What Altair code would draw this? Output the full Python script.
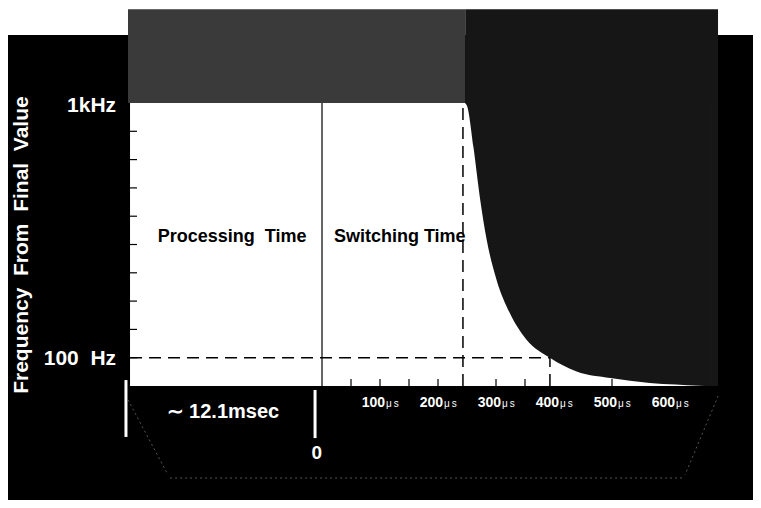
import altair as alt
import pandas as pd

# ---- data ----
# time axis in microseconds (0 = start of switching); negative part = processing time
curve_t = [246, 250, 261, 272, 284, 301, 324, 353, 393, 439, 497, 565, 610, 650, 669]
curve_f = [1000, 990, 845, 669, 516, 375, 257, 163, 100, 51, 28, 11, 5, 1, 0]

y_tick_values = [100, 200, 300, 400, 500, 600, 700, 800, 900]
x_tick_values = [50, 100, 150, 200, 300, 350, 500]
x_label_values = [100, 200, 300, 400, 500, 600]
x_label_numbers = ["100", "200", "300", "400", "500", "600"]
x_label_unit = "\u03bc\u2009s"

switch_start = 243      # µs, start of the fall (dashed vertical)
settle_time = 393       # µs, reaching 100 Hz
settle_freq = 100       # Hz
full_freq = 1000        # Hz
plot_start = -331       # left edge of white panel (processing time region)
plot_end = 669          # right edge of white panel

NB = "\u00a0"

# ---- scales ----
X_MIN, X_MAX = -541.4, 743.1
Y_MIN, Y_MAX = -402.8, 1335.7
xs = alt.Scale(domain=[X_MIN, X_MAX], nice=False, zero=False)
ys = alt.Scale(domain=[Y_MIN, Y_MAX], nice=False, zero=False)
FONT = "Liberation Sans"


def X(f="x"):
    return alt.X(f"{f}:Q", scale=xs, axis=None)


def Y(f="y"):
    return alt.Y(f"{f}:Q", scale=ys, axis=None)


def rect(x, x2, y, y2, color):
    df = pd.DataFrame({"x": [x], "x2": [x2], "y": [y], "y2": [y2]})
    return alt.Chart(df).mark_rect(color=color).encode(x=X(), x2="x2", y=Y(), y2="y2")


def rule(x, x2, y, y2, color="black", width=1.0, dash=None, opacity=1.0):
    df = pd.DataFrame({"x": x, "x2": x2, "y": y, "y2": y2})
    kw = dict(color=color, strokeWidth=width, opacity=opacity)
    if dash:
        kw["strokeDash"] = dash
    return alt.Chart(df).mark_rule(**kw).encode(x=X(), x2="x2", y=Y(), y2="y2")


def text(x, y, s, size, color="white", weight="bold", align="center", baseline="middle",
         dx=0, dy=0, angle=0):
    df = pd.DataFrame({"x": x, "y": y, "s": s})
    return alt.Chart(df).mark_text(
        font=FONT, fontSize=size, fontWeight=weight, color=color, align=align,
        baseline=baseline, dx=dx, dy=dy, angle=angle
    ).encode(x=X(), y=Y(), text="s:N")


layers = []
# dark surroundings
layers.append(rect(X_MIN, X_MAX, 1240, Y_MIN, "#000000"))
layers.append(rect(-334.5, switch_start + 4, Y_MAX - 4, full_freq, "#3a3a3a"))
layers.append(rect(switch_start + 4, 682.8, Y_MAX - 4, 0, "#161616"))
# white panel
layers.append(rect(plot_start, plot_end, 0, full_freq, "#ffffff"))
# dark region above the settling curve
curve_df = pd.DataFrame({"t": curve_t, "f": curve_f, "top": [full_freq] * len(curve_t)})
layers.append(
    alt.Chart(curve_df).mark_area(color="#161616", interpolate="monotone").encode(
        x=X("t"), y=Y("f"), y2="top")
)
# dashed guide lines
dash = [12, 7]
layers.append(rule([plot_start], [settle_time], [settle_freq], [settle_freq], width=1.5, dash=dash))
layers.append(rule([switch_start], [switch_start], [0], [full_freq], width=1.5, dash=dash))
layers.append(rule([settle_time], [settle_time], [0], [settle_freq], width=1.5, dash=dash))
# solid zero line
layers.append(rule([0], [0], [0], [full_freq], width=1.2))
# y ticks (inside left edge)
layers.append(rule([plot_start] * len(y_tick_values), [plot_start + 12] * len(y_tick_values),
                   y_tick_values, y_tick_values, width=1.2))
# x ticks (up from bottom)
layers.append(rule(x_tick_values, x_tick_values, [0] * len(x_tick_values),
                   [25] * len(x_tick_values), width=1.2))
# x labels
layers.append(text(x_label_values, [0] * 6, x_label_numbers, 14, align="right",
                   baseline="alphabetic", dx=5, dy=21))
layers.append(text(x_label_values, [0] * 6, [x_label_unit] * 6, 10, weight="normal",
                   align="left", baseline="alphabetic", dx=6, dy=21))
# y labels
layers.append(text([-355], [full_freq], ["1kHz"], 21, align="right", dy=3))
layers.append(text([-355], [settle_freq], ["100" + NB + NB + "Hz"], 21, align="right", dy=1))
# axis title
layers.append(text([-517], [498], [(NB + NB).join(["Frequency", "From", "Final", "Value"])],
                   21, angle=270))
# region labels
layers.append(text([-155], [526], ["Processing" + NB + NB + "Time"], 18, color="black"))
layers.append(text([134], [526], ["Switching" + NB + "Time"], 18, color="black"))
# bottom annotations
layers.append(text([-171], [-92], ["\u223c" + NB + "12.1msec"], 20))
layers.append(text([-9], [-238], ["0"], 19))
layers.append(rule([-338], [-338], [21], [-180], color="white", width=3))
layers.append(rule([-12], [-12], [-14], [-184], color="white", width=3))
# faint stand outline
layers.append(rule([-334.5, 683, -262], [-265.5, 626, 626], [-49, -35, -325], [-314, -314, -325],
                   color="#555555", width=1, dash=[2, 3]))

chart = alt.layer(*layers).properties(
    width=745, height=492,
    autosize=alt.AutoSizeParams(type="none"),
    padding=0,
    background="white",
).configure_view(stroke=None)

chart.save("out.html", embed_options={"renderer": "svg", "actions": False})
